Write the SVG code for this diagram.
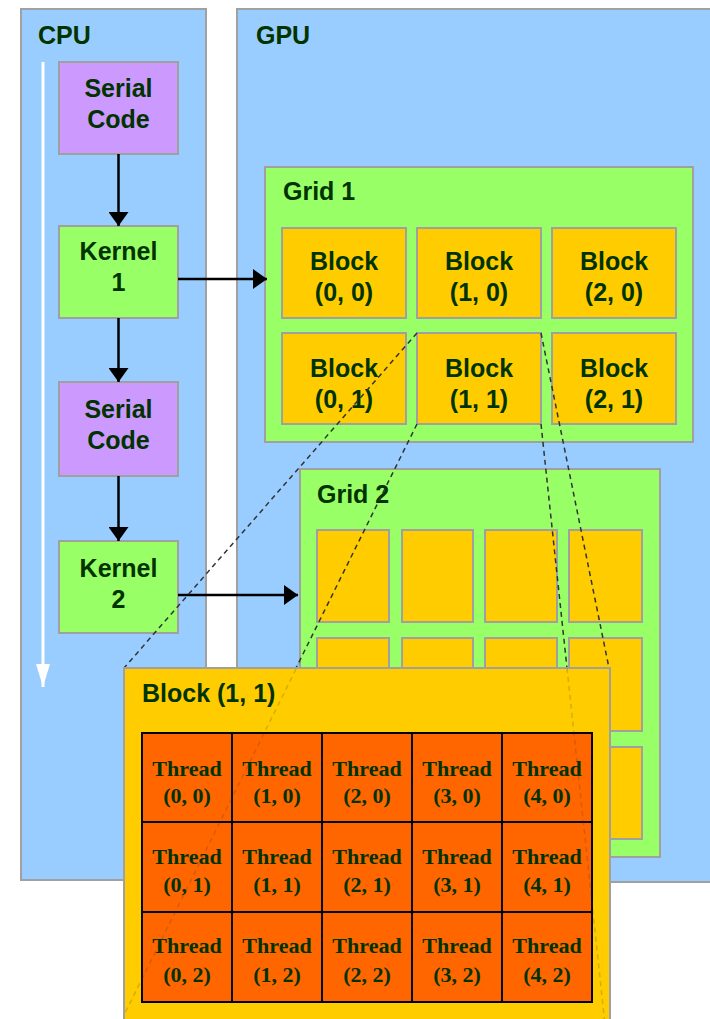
<svg xmlns="http://www.w3.org/2000/svg" width="710" height="1019" viewBox="0 0 710 1019">
<style>
  .panel { fill: #99CCFF; stroke: #A0A0A0; stroke-width: 2; }
  .serial { fill: #CC99FF; stroke: #A0A0A0; stroke-width: 2; }
  .kernel { fill: #99FF66; stroke: #A0A0A0; stroke-width: 2; }
  .grid { fill: #99FF66; stroke: #A0A0A0; stroke-width: 2; }
  .block { fill: #FFCC00; stroke: #A0A0A0; stroke-width: 2; }
  .thread { fill: #FF6600; stroke: #000000; stroke-width: 2; }
  .lbl { font-family: "Liberation Sans", Arial, sans-serif; font-weight: bold; font-size: 25px; fill: #003300; }
  .c { text-anchor: middle; }
  .th { font-family: "Liberation Serif", "Times New Roman", serif; font-weight: bold; font-size: 22px; fill: #003300; text-anchor: middle; }
  .arrow { stroke: #000000; stroke-width: 2.5; fill: none; marker-end: url(#ah); }
  .dash { stroke: #333333; stroke-width: 1.5; stroke-dasharray: 5 4; fill: none; }
</style>
<defs>
  <marker id="ah" viewBox="0 0 14 20" refX="14" refY="10" markerWidth="14" markerHeight="20" markerUnits="userSpaceOnUse" orient="auto">
    <path d="M0,0 L14,10 L0,20 Z" fill="#000000"/>
  </marker>
  <marker id="wh" viewBox="0 0 23 14" refX="23" refY="7" markerWidth="23" markerHeight="14" markerUnits="userSpaceOnUse" orient="auto">
    <path d="M0,0 L23,7 L0,14 Z" fill="#FFFFFF"/>
  </marker>
</defs>
<rect width="710" height="1019" fill="#FFFFFF"/>

<g id="cpu">
  <rect class="panel" x="21" y="9" width="185" height="871"/>
  <text class="lbl" x="38" y="44">CPU</text>
</g>
<g id="gpu">
  <rect class="panel" x="237" y="9" width="480" height="873"/>
  <text class="lbl" x="256" y="44">GPU</text>
</g>

<g id="timeline">
  <line x1="43" y1="62" x2="43" y2="687" stroke="#FFFFFF" stroke-width="3" marker-end="url(#wh)"/>
</g>

<g id="serial1">
  <rect class="serial" x="59" y="62" width="119" height="92"/>
  <text class="lbl c" x="118.5" y="97">Serial</text>
  <text class="lbl c" x="118.5" y="128">Code</text>
</g>
<g id="kernel1">
  <rect class="kernel" x="59" y="226" width="119" height="92"/>
  <text class="lbl c" x="118.5" y="260">Kernel</text>
  <text class="lbl c" x="118.5" y="291">1</text>
</g>
<g id="serial2">
  <rect class="serial" x="59" y="382" width="119" height="94"/>
  <text class="lbl c" x="118.5" y="418">Serial</text>
  <text class="lbl c" x="118.5" y="449">Code</text>
</g>
<g id="kernel2">
  <rect class="kernel" x="59" y="541" width="119" height="92"/>
  <text class="lbl c" x="118.5" y="577">Kernel</text>
  <text class="lbl c" x="118.5" y="608">2</text>
</g>

<g id="grid1">
  <rect class="grid" x="265" y="167" width="428" height="275"/>
  <text class="lbl" x="283" y="200">Grid 1</text>
  <g id="g1b00"><rect class="block" x="282" y="228" width="124" height="90"/><text class="lbl c" x="344" y="270">Block</text><text class="lbl c" x="344" y="301">(0, 0)</text></g>
  <g id="g1b10"><rect class="block" x="417" y="228" width="124" height="90"/><text class="lbl c" x="479" y="270">Block</text><text class="lbl c" x="479" y="301">(1, 0)</text></g>
  <g id="g1b20"><rect class="block" x="552" y="228" width="124" height="90"/><text class="lbl c" x="614" y="270">Block</text><text class="lbl c" x="614" y="301">(2, 0)</text></g>
  <g id="g1b01"><rect class="block" x="282" y="333" width="124" height="91"/><text class="lbl c" x="344" y="377">Block</text><text class="lbl c" x="344" y="408">(0, 1)</text></g>
  <g id="g1b11"><rect class="block" x="417" y="333" width="124" height="91"/><text class="lbl c" x="479" y="377">Block</text><text class="lbl c" x="479" y="408">(1, 1)</text></g>
  <g id="g1b21"><rect class="block" x="552" y="333" width="124" height="91"/><text class="lbl c" x="614" y="377">Block</text><text class="lbl c" x="614" y="408">(2, 1)</text></g>
</g>

<g id="grid2">
  <rect class="grid" x="300" y="469" width="360" height="388"/>
  <text class="lbl" x="317" y="503">Grid 2</text>
  <rect class="block" x="317" y="530" width="72" height="92"/>
  <rect class="block" x="402" y="530" width="71" height="92"/>
  <rect class="block" x="485" y="530" width="72" height="92"/>
  <rect class="block" x="569" y="530" width="73" height="92"/>
  <rect class="block" x="317" y="638" width="72" height="93"/>
  <rect class="block" x="402" y="638" width="71" height="93"/>
  <rect class="block" x="485" y="638" width="72" height="93"/>
  <rect class="block" x="569" y="638" width="73" height="93"/>
  <rect class="block" x="317" y="747" width="72" height="92"/>
  <rect class="block" x="402" y="747" width="71" height="92"/>
  <rect class="block" x="485" y="747" width="72" height="92"/>
  <rect class="block" x="569" y="747" width="73" height="92"/>
</g>

<g id="connectors">
  <line class="arrow" x1="118.5" y1="154" x2="118.5" y2="226"/>
  <line class="arrow" x1="118.5" y1="318" x2="118.5" y2="382"/>
  <line class="arrow" x1="118.5" y1="476" x2="118.5" y2="541"/>
  <line class="arrow" x1="178" y1="279" x2="267" y2="279"/>
  <line class="arrow" x1="178" y1="595" x2="298" y2="595"/>
  <line class="dash" x1="417" y1="333" x2="124" y2="668"/>
  <line class="dash" x1="417" y1="424" x2="124" y2="1015"/>
  <line class="dash" x1="541" y1="333" x2="609" y2="668"/>
  <line class="dash" x1="541" y1="424" x2="605" y2="1025"/>
</g>

<g id="block11">
  <rect class="block" x="124" y="668" width="486" height="400"/>
  <text class="lbl" x="142" y="702">Block (1, 1)</text>
  <g id="threads">
    <rect class="thread" x="142" y="733" width="90" height="89"/>
    <rect class="thread" x="232" y="733" width="90" height="89"/>
    <rect class="thread" x="322" y="733" width="90" height="89"/>
    <rect class="thread" x="412" y="733" width="90" height="89"/>
    <rect class="thread" x="502" y="733" width="90" height="89"/>
    <rect class="thread" x="142" y="822" width="90" height="90"/>
    <rect class="thread" x="232" y="822" width="90" height="90"/>
    <rect class="thread" x="322" y="822" width="90" height="90"/>
    <rect class="thread" x="412" y="822" width="90" height="90"/>
    <rect class="thread" x="502" y="822" width="90" height="90"/>
    <rect class="thread" x="142" y="912" width="90" height="90"/>
    <rect class="thread" x="232" y="912" width="90" height="90"/>
    <rect class="thread" x="322" y="912" width="90" height="90"/>
    <rect class="thread" x="412" y="912" width="90" height="90"/>
    <rect class="thread" x="502" y="912" width="90" height="90"/>
    <text class="th" x="187" y="776">Thread</text><text class="th" x="187" y="803">(0, 0)</text>
    <text class="th" x="277" y="776">Thread</text><text class="th" x="277" y="803">(1, 0)</text>
    <text class="th" x="367" y="776">Thread</text><text class="th" x="367" y="803">(2, 0)</text>
    <text class="th" x="457" y="776">Thread</text><text class="th" x="457" y="803">(3, 0)</text>
    <text class="th" x="547" y="776">Thread</text><text class="th" x="547" y="803">(4, 0)</text>
    <text class="th" x="187" y="864">Thread</text><text class="th" x="187" y="892">(0, 1)</text>
    <text class="th" x="277" y="864">Thread</text><text class="th" x="277" y="892">(1, 1)</text>
    <text class="th" x="367" y="864">Thread</text><text class="th" x="367" y="892">(2, 1)</text>
    <text class="th" x="457" y="864">Thread</text><text class="th" x="457" y="892">(3, 1)</text>
    <text class="th" x="547" y="864">Thread</text><text class="th" x="547" y="892">(4, 1)</text>
    <text class="th" x="187" y="953">Thread</text><text class="th" x="187" y="982">(0, 2)</text>
    <text class="th" x="277" y="953">Thread</text><text class="th" x="277" y="982">(1, 2)</text>
    <text class="th" x="367" y="953">Thread</text><text class="th" x="367" y="982">(2, 2)</text>
    <text class="th" x="457" y="953">Thread</text><text class="th" x="457" y="982">(3, 2)</text>
    <text class="th" x="547" y="953">Thread</text><text class="th" x="547" y="982">(4, 2)</text>
  </g>
</g>

<g id="connectors-faint" opacity="0.2">
  <line class="dash" x1="300" y1="661" x2="124" y2="1015"/>
  <line class="dash" x1="567" y1="668" x2="605" y2="1025"/>
</g>
</svg>
